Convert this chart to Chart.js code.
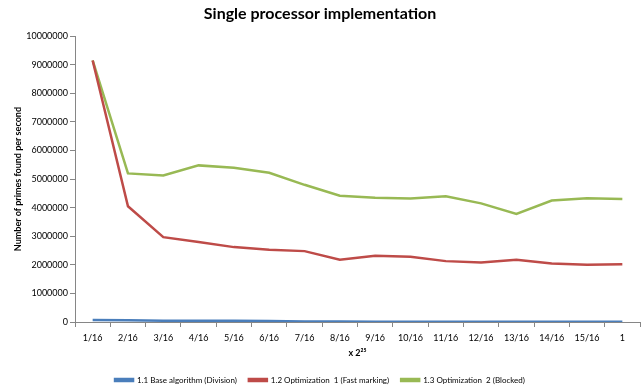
<!DOCTYPE html>
<html>
<head>
<meta charset="utf-8">
<script src="https://cdn.jsdelivr.net/npm/chart.js@4"></script>
<style>
  html, body { margin: 0; padding: 0; background: #fff; }
  #wrap { width: 643px; height: 390px; }
</style>
</head>
<body>
<div id="wrap"><canvas id="c" width="643" height="390"></canvas></div>
<script>
// Problem sizes, as fractions of 2^25
const categories = ['1/16','2/16','3/16','4/16','5/16','6/16','7/16','8/16','9/16','10/16','11/16','12/16','13/16','14/16','15/16','1'];

// Primes found per second for each implementation
const baseDivision = [70000, 65000, 45000, 40000, 40000, 35000, 20000, 15000, 12000, 10000, 10000, 9000, 8000, 8000, 7000, 7000];
const fastMarking  = [9150000, 4050000, 2970000, 2800000, 2620000, 2530000, 2480000, 2180000, 2320000, 2280000, 2130000, 2080000, 2180000, 2050000, 2000000, 2020000];
const blocked      = [9150000, 5200000, 5130000, 5480000, 5400000, 5220000, 4800000, 4420000, 4350000, 4320000, 4400000, 4150000, 3780000, 4250000, 4330000, 4300000];

const seriesNames = ['1.1 Base algorithm (Division)', '1.2 Optimization  1 (Fast marking)', '1.3 Optimization  2 (Blocked)'];
const yTicks = { min: 0, max: 10000000, step: 1000000 };

const FONT = 'Lato, "Open Sans", sans-serif';
const axisGray = '#868686';

function lineSet(label, data, color) {
  return {
    label, data,
    borderColor: color,
    backgroundColor: color,
    borderWidth: 2.5,
    pointRadius: 0,
    tension: 0,
    fill: false
  };
}

new Chart(document.getElementById('c'), {
  type: 'line',
  data: {
    labels: categories,
    datasets: [
      lineSet(seriesNames[0], baseDivision, '#4A7EBB'),
      lineSet(seriesNames[1], fastMarking, '#BE4B48'),
      lineSet(seriesNames[2], blocked, '#98B954')
    ]
  },
  options: {
    responsive: false,
    animation: false,
    devicePixelRatio: 1,
    layout: { padding: { left: 0, right: 3, top: 0, bottom: -4 } },
    plugins: {
      title: {
        display: true,
        text: 'Single processor implementation',
        color: '#000',
        font: { family: FONT, size: 16, weight: 'bold' },
        padding: { top: 4, bottom: 13 }
      },
      legend: {
        position: 'bottom',
        labels: {
          color: '#000',
          font: { family: FONT, size: 8 },
          boxWidth: 18,
          boxHeight: 2,
          padding: 12
        }
      },
      tooltip: { enabled: false }
    },
    scales: {
      x: {
        type: 'category',
        offset: true,
        grid: {
          offset: true,
          drawOnChartArea: false,
          drawTicks: true,
          tickLength: 5,
          color: axisGray
        },
        border: { color: axisGray, width: 1 },
        ticks: {
          color: '#000',
          font: { family: FONT, size: 9 },
          padding: 6,
          maxRotation: 0,
          autoSkip: false
        },
        title: {
          display: true,
          text: 'x 2\u00B2\u2075',
          color: '#000',
          font: { family: FONT, size: 9, weight: 'bold' },
          padding: { top: 0, bottom: 6 }
        },
        afterFit(scale) { scale.height = 42; }
      },
      y: {
        min: yTicks.min,
        max: yTicks.max,
        grid: {
          drawOnChartArea: false,
          drawTicks: true,
          tickLength: 5,
          color: axisGray
        },
        border: { color: axisGray, width: 1 },
        ticks: {
          stepSize: yTicks.step,
          color: '#000',
          font: { family: FONT, size: 9 },
          padding: 2,
          callback: v => String(v)
        },
        title: {
          display: true,
          text: 'Number of primes found per second',
          color: '#000',
          font: { family: FONT, size: 9, weight: 'bold' },
          padding: { top: 13, bottom: 0 }
        },
        afterFit(scale) { scale.width = 75; }
      }
    }
  }
});
</script>
</body>
</html>
